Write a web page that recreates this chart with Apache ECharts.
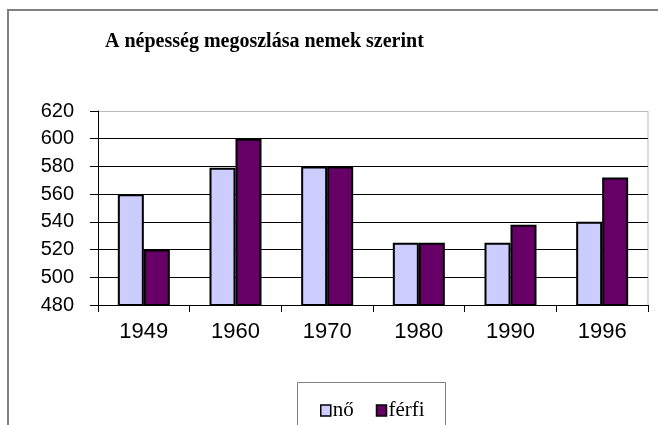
<!DOCTYPE html>
<html><head><meta charset="utf-8">
<script src="https://cdn.jsdelivr.net/npm/echarts@6/dist/echarts.min.js"></script>
<style>html,body{margin:0;padding:0;background:#fff}#c{width:658px;height:425px}</style>
</head><body><div id="c"></div>
<script>
const categories = ['1949', '1960', '1970', '1980', '1990', '1996'];
const noValues = [560, 579, 580, 525, 525, 540];
const ferfiValues = [520, 600, 580, 525, 538, 572];
const seriesNames = ['nő', 'férfi'];
const titleText = 'A népesség megoszlása nemek szerint';

const chart = echarts.init(document.getElementById('c'), null, {renderer: 'canvas'});
chart.setOption({
  backgroundColor: '#fff',
  animation: false,
  title: {
    text: titleText, left: 100, top: 27,
    textStyle: {fontFamily: 'Liberation Serif', fontWeight: 'bold', fontSize: 20, color: '#000'}
  },
  legend: {
    data: seriesNames, left: 315, top: 395, itemWidth: 10, itemHeight: 11, itemGap: 22,
    icon: 'rect',
    itemStyle: {borderColor: '#000', borderWidth: 1.5},
    textStyle: {fontFamily: 'Liberation Serif', fontSize: 21, color: '#000', padding: [0,0,0,-3]}
  },
  grid: {left: 98, top: 111, right: 10, bottom: 120},
  xAxis: {
    type: 'category', data: categories,
    axisLine: {lineStyle: {color: '#000', width: 1}},
    axisTick: {show: true, alignWithLabel: false, length: 7, lineStyle: {color: '#000'}},
    axisLabel: {fontFamily: 'Liberation Sans', fontSize: 22, color: '#000', margin: 16}
  },
  yAxis: {
    type: 'value', min: 480, max: 620, interval: 20,
    axisLine: {show: true, lineStyle: {color: '#000', width: 1}},
    axisTick: {show: true, length: 8, lineStyle: {color: '#000'}},
    axisLabel: {fontFamily: 'Liberation Sans', fontSize: 20, color: '#000', margin: 24},
    splitLine: {show: true, lineStyle: {color: ['#000','#000','#000','#000','#000','#000','#000','#bbb'], width: 1}}
  },
  series: [
    {name: seriesNames[0], type: 'bar', data: noValues, barWidth: 26, barGap: '0%',
     itemStyle: {color: '#CCCCFF', borderColor: '#000', borderWidth: 2}},
    {name: seriesNames[1], type: 'bar', data: ferfiValues, barWidth: 26, barGap: '0%',
     itemStyle: {color: '#660066', borderColor: '#000', borderWidth: 2}}
  ],
  graphic: [
    {type: 'rect', shape: {x: 8, y: 10, width: 700, height: 500}, style: {fill: 'none', stroke: '#808080', lineWidth: 2}, silent: true},
    {type: 'line', shape: {x1: 648, y1: 111, x2: 648, y2: 305}, style: {stroke: '#bbb', lineWidth: 1}, silent: true},
    {type: 'rect', shape: {x: 297.5, y: 382.5, width: 148, height: 60}, style: {fill: 'none', stroke: '#808080', lineWidth: 1}, silent: true, z: -1}
  ]
});
</script></body></html>
